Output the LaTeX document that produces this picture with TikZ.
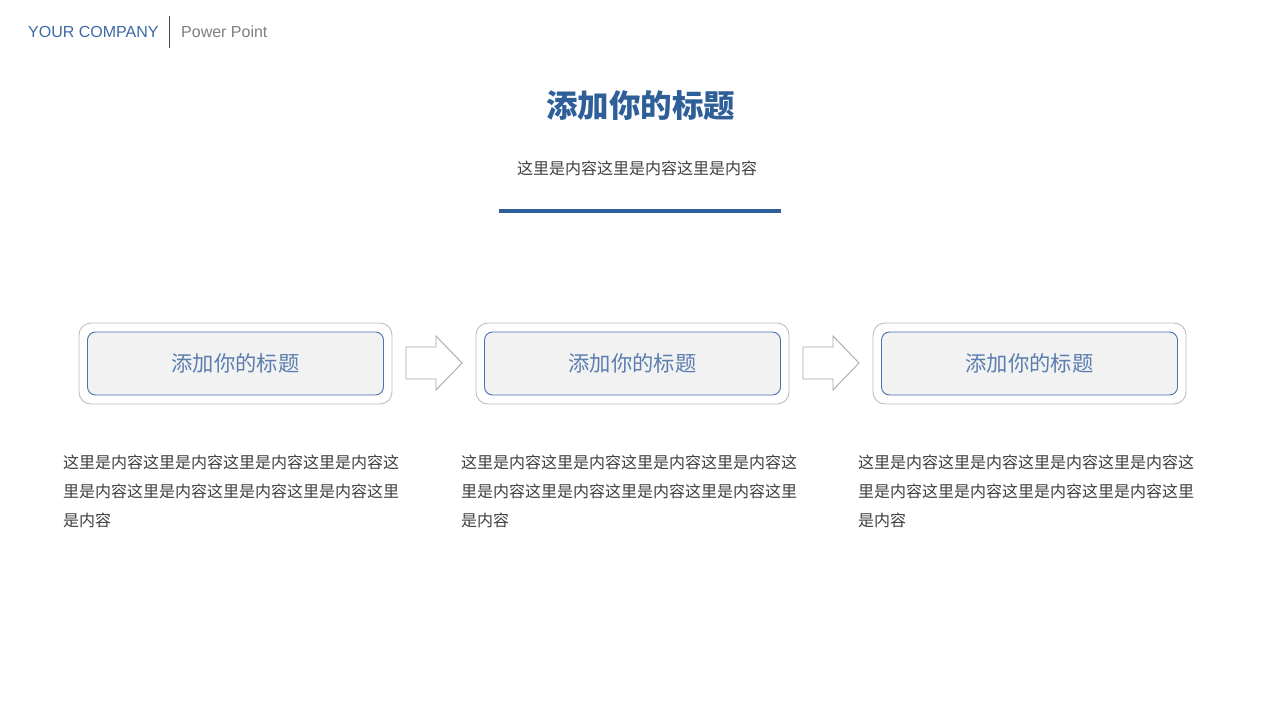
\documentclass[tikz,border=0pt]{standalone}
\usepackage{fontspec}
\setmainfont{Liberation Sans}
\newfontfamily\cjk{Noto Sans CJK SC}
\definecolor{cblue}{HTML}{2E5F99}
\definecolor{hdblue}{HTML}{3C6AA3}
\definecolor{boxblue}{HTML}{4A72AE}
\definecolor{boxtext}{HTML}{5B7EAE}
\definecolor{txtgray}{HTML}{404040}
\definecolor{lgray}{HTML}{BDBDBD}
\definecolor{agray}{HTML}{A8A8A8}
\definecolor{fillgray}{HTML}{F2F2F2}
\tikzset{
  outerbox/.style={draw=lgray, line width=0.9pt, rounded corners=12pt, minimum width=313pt, minimum height=81pt, fill=white},
  innerbox/.style={draw=boxblue, line width=0.9pt, rounded corners=8pt, minimum width=296pt, minimum height=63pt, fill=fillgray, font=\cjk\fontsize{21.3}{21.3}\selectfont, text=boxtext, inner sep=0pt},
  blockarrow/.style={draw=agray, line width=0.9pt, fill=white, line join=miter},
  bodytext/.style={font=\cjk\fontsize{16}{29}\selectfont, text=txtgray, align=left, anchor=north west, inner sep=0pt}
}
\begin{document}
\begin{tikzpicture}[x=1pt,y=-1pt]
\useasboundingbox[fill=white] (0,0) rectangle (1280,720);
% header
\node[anchor=west, text=hdblue, font=\fontsize{16}{16}\selectfont, inner sep=0pt] (company) at (28,32) {YOUR COMPANY};
\coordinate (vt) at (169,16);
\coordinate (vb) at (169,48);
\draw[draw=txtgray!80!hdblue, line width=1pt] (vt) -- (vb);
\node[anchor=west, text=gray, font=\fontsize{16}{16}\selectfont, inner sep=0pt] (pp) at (181,32) {Power Point};
% title
\node[text=cblue, font=\cjk\bfseries\fontsize{31.5}{31.5}\selectfont, inner sep=0pt] (title) at (640.5,106) {添加你的标题};
\node[text=txtgray, font=\cjk\fontsize{16}{16}\selectfont, inner sep=0pt] (sub) at (637,168) {这里是内容这里是内容这里是内容};
\fill[cblue] (499,209) rectangle (781,213);
% boxes
\foreach \i/\cx in {1/235.5, 2/632.5, 3/1029.5}{
  \node[outerbox] (o\i) at (\cx,363.5) {};
  \node[innerbox] (b\i) at (\cx,363.5) {添加你的标题};
}
% arrows
\foreach \ax in {406, 803}{
  \draw[blockarrow] (\ax,347) -- ++(30,0) -- ++(0,-11) -- ++(26,27) -- ++(-26,27) -- ++(0,-11) -- ++(-30,0) -- cycle;
}
% body texts
\foreach \i/\tx in {1/63, 2/461, 3/858}{
  \node[bodytext] (t\i) at (\tx,455) {这里是内容这里是内容这里是内容这里是内容这\\里是内容这里是内容这里是内容这里是内容这里\\是内容};
}
\end{tikzpicture}
\end{document}
